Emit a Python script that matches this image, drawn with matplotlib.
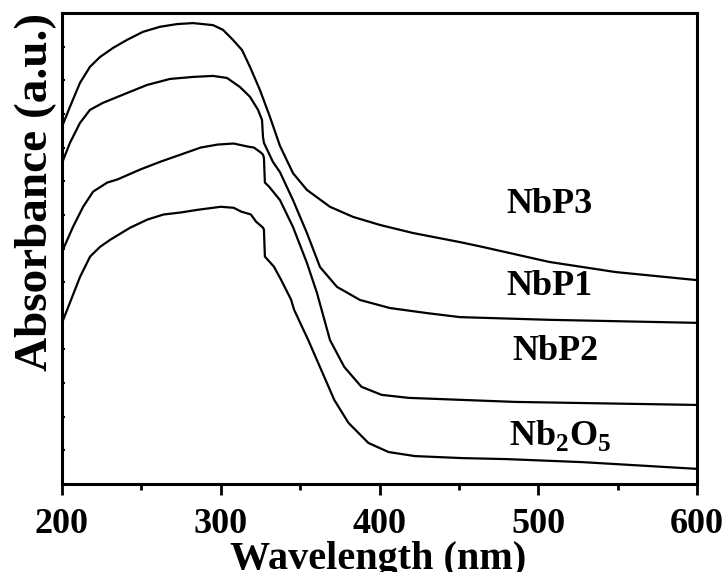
import matplotlib
matplotlib.use('Agg')
import matplotlib.pyplot as plt
import numpy as np

plt.rcParams['font.family'] = 'Liberation Serif'
plt.rcParams['font.weight'] = 'bold'
plt.rcParams['mathtext.fontset'] = 'custom'
plt.rcParams['mathtext.rm'] = 'Liberation Serif:bold'
plt.rcParams['mathtext.bf'] = 'Liberation Serif:bold'

# 数据（从图上读取，纵轴为任意单位）
wl_nbp3 = [200, 205, 211.3, 217.6, 223.9, 232.1, 240.9, 251, 261.7, 272.4, 282.5, 295.1, 301.4,
           307.7, 313.4, 318.4, 324.7, 331, 337.3, 345.5, 354.3, 368.8, 383.3, 400.3, 421.1,
           450.7, 464.6, 507, 548.7, 600]
ab_nbp3 = [10.62, 11.21, 11.92, 12.40, 12.69, 12.96, 13.20, 13.44, 13.59, 13.67, 13.70, 13.64, 13.50,
           13.20, 12.90, 12.40, 11.71, 10.91, 10.05, 9.24, 8.74, 8.24, 7.94, 7.70, 7.46,
           7.19, 7.05, 6.60, 6.30, 6.06]

wl_nbp1 = [200, 205, 211.3, 217.6, 225.8, 240.9, 253.5, 268, 282.5, 295.1, 303.9, 312.1, 318.4,
           323.5, 326, 326.6, 327.2, 332.9, 337.3, 345.5, 354.3, 362.5, 373.2, 387.7, 406.6,
           429.9, 450.7, 507, 600]
ab_nbp1 = [9.54, 10.14, 10.73, 11.12, 11.33, 11.62, 11.86, 12.04, 12.10, 12.13, 12.07, 11.80, 11.51,
           11.12, 10.82, 10.32, 10.14, 9.57, 9.27, 8.44, 7.46, 6.45, 5.86, 5.47, 5.23,
           5.08, 4.96, 4.88, 4.79]

wl_nbp2 = [200, 207, 213.3, 219.6, 228.5, 234.8, 249.4, 262, 274.7, 287.3, 298.1, 308.2, 317,
           320.9, 325.3, 326.6, 327.2, 327.8, 330.4, 337.3, 345.5, 354.3, 360.6, 368.8,
           377.8, 388.6, 401.3, 418.4, 451.9, 485.4, 600]
ab_nbp2 = [6.9, 7.65, 8.24, 8.69, 8.96, 9.05, 9.35, 9.58, 9.79, 10.0, 10.09, 10.12, 10.03,
           10.0, 9.85, 9.79, 9.70, 8.96, 8.84, 8.44, 7.64, 6.57, 5.68, 4.28,
           3.48, 2.89, 2.65, 2.56, 2.5, 2.44, 2.35]

wl_nb2o5 = [200, 205, 211.4, 217.7, 224, 230.4, 243, 253.8, 263.9, 274.7, 285.4, 300, 308.2,
            312.7, 319, 322.2, 326.6, 327.2, 327.8, 333.5, 338, 344.3, 346.2, 355, 363.3, 371.5,
            380.4, 393, 405.7, 422.2, 452, 480, 527.8, 600]
ab_nb2o5 = [4.79, 5.39, 6.16, 6.76, 7.05, 7.26, 7.62, 7.86, 8.01, 8.07, 8.15, 8.24, 8.21,
            8.1, 8.01, 7.8, 7.62, 7.56, 6.76, 6.46, 6.07, 5.48, 5.18, 4.29, 3.39, 2.5,
            1.82, 1.22, 0.95, 0.83, 0.77, 0.74, 0.65, 0.45]

labels = ['NbP3', 'NbP1', 'NbP2', r'Nb$_2$O$_5$']
label_x = [507, 507, 511, 514]
label_y = [8.3, 5.86, 3.93, 1.45]

fig = plt.figure(figsize=(7.28, 5.72), dpi=100)
ax = fig.add_axes([62 / 728, 1 - 484 / 572, (697 - 62) / 728, (484 - 13) / 572])

for wl, ab in [(wl_nbp3, ab_nbp3), (wl_nbp1, ab_nbp1), (wl_nbp2, ab_nbp2), (wl_nb2o5, ab_nb2o5)]:
    ax.plot(wl, ab, color='black', lw=1.6, solid_joinstyle='round')

for s, x, y in zip(labels, label_x, label_y):
    ax.text(x, y, s, fontsize=26, fontweight='bold', ha='center', va='center')

ax.set_xlim(200, 600)
ax.set_ylim(0, 14)
ax.set_xticks([200, 300, 400, 500, 600])
ax.set_xticks(np.arange(250, 600, 100), minor=True)
ax.set_yticks(np.arange(0, 15, 1))
ax.set_yticklabels([])
ax.tick_params(axis='x', which='major', direction='out', length=8, width=2, labelsize=26, pad=9)
ax.tick_params(axis='x', which='minor', direction='out', length=4.5, width=2)
ax.tick_params(axis='y', which='major', direction='in', length=2, width=1.5)
for sp in ax.spines.values():
    sp.set_linewidth(2.2)
for t in ax.get_xticklabels():
    t.set_fontweight('bold')

ax.set_xlabel('Wavelength (nm)', fontsize=29, fontweight='bold')
ax.set_ylabel('Absorbance (a.u.)', fontsize=34, fontweight='bold')
ax.xaxis.set_label_coords(0.498, -0.121)
ax.yaxis.set_label_coords(-0.008, 0.621)

fig.savefig('out.png', dpi=100)
